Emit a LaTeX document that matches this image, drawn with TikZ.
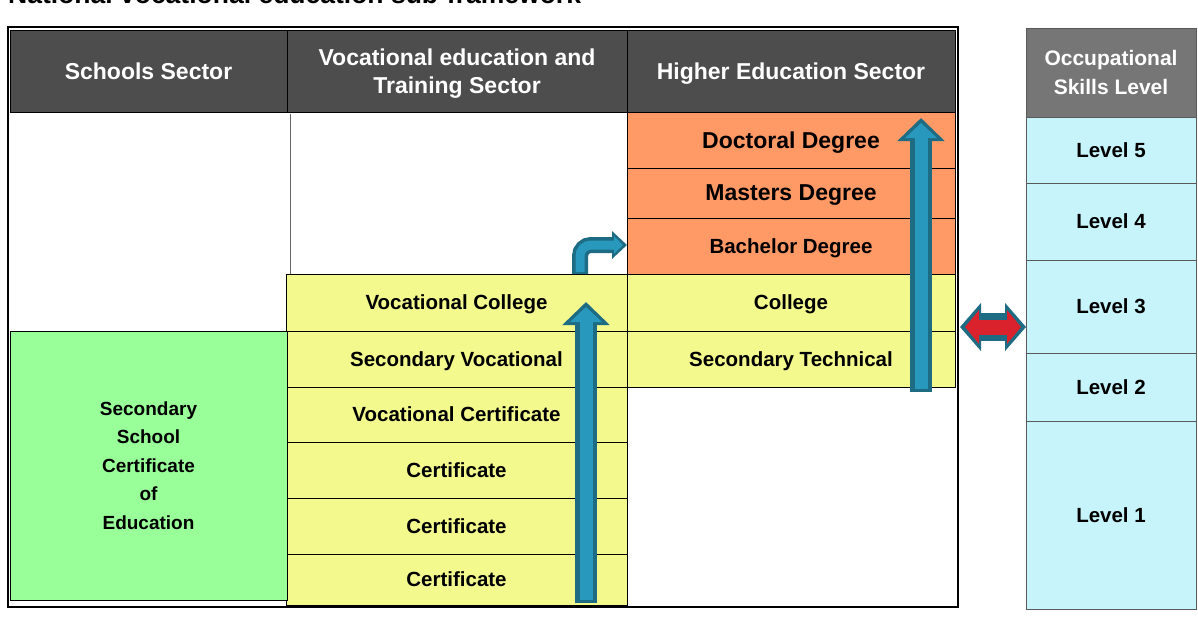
\documentclass[tikz,border=0pt]{standalone}
\usepackage{fontspec}
\setmainfont{Liberation Sans}
\usetikzlibrary{positioning,arrows.meta}

\definecolor{headgray}{HTML}{4D4D4D}
\definecolor{levelgray}{HTML}{767676}
\definecolor{degorange}{HTML}{FF9966}
\definecolor{vetyellow}{HTML}{F3F98D}
\definecolor{schgreen}{HTML}{99FF99}
\definecolor{lvlcyan}{HTML}{C7F4FA}
\definecolor{arrdark}{HTML}{1E6C84}
\definecolor{arrblue}{HTML}{2898BC}
\definecolor{arrred}{HTML}{D9222B}

\tikzset{
  cell/.style={draw=black, line width=0.8pt, inner sep=0pt, outer sep=0pt, align=center,
    text depth=0pt, text=black, font=\bfseries\fontsize{20.5}{24}\selectfont},
  headcell/.style={cell, fill=headgray, text=white, font=\bfseries\fontsize{23}{28}\selectfont},
  degcell/.style={cell, fill=degorange, minimum width=328pt},
  vetcell/.style={cell, fill=vetyellow},
  lvlcell/.style={cell, draw=black!65, fill=lvlcyan, minimum width=170pt},
  bluearrow/.style={draw=arrdark, line width=22pt, -{Triangle[width=46pt,length=23pt]},
    postaction={draw=arrblue, line width=13pt, -{Triangle[width=31pt,length=15pt]},
      shorten >=5pt, shorten <=3pt}},
  bentarrow/.style={draw=arrdark, line width=16pt, rounded corners=11pt, -{Triangle[width=27pt,length=15pt]},
    postaction={draw=arrblue, line width=9pt, -{Triangle[width=17pt,length=9pt]},
      shorten >=4pt, shorten <=2pt}},
  redarrow/.style={draw=arrdark, line width=28pt, {Triangle[width=47pt,length=21pt]}-{Triangle[width=47pt,length=21pt]},
    postaction={draw=arrred, line width=15pt, {Triangle[width=33pt,length=14pt]}-{Triangle[width=33pt,length=14pt]},
      shorten >=5pt, shorten <=5pt}}
}

\begin{document}
\begin{tikzpicture}[x=1pt, y=-1pt]
  \useasboundingbox (0,0) rectangle (1198,623);
  \clip (0,0) rectangle (1198,623);

  % 0. Title line, cut off at the top edge
  \node[anchor=base west, inner sep=0pt, font=\bfseries\fontsize{26.5}{30}\selectfont] (title) at (8,4)
    {National vocational education sub-framework};

  % 1. Header row of the framework table
  \node[headcell, minimum width=277pt, minimum height=82pt, anchor=north west] (hSch) at (10,30) {Schools Sector};
  \node[headcell, minimum width=340pt, minimum height=82pt, right=0pt of hSch] (hVet)
    {Vocational education and\\Training Sector};
  \node[headcell, minimum width=328pt, minimum height=82pt, right=0pt of hVet] (hHigh) {Higher Education Sector};

  % 2. Higher education column
  \node[degcell, minimum height=56pt, anchor=north west, font=\bfseries\fontsize{23}{28}\selectfont] (doc) at (627,112) {Doctoral Degree};
  \node[degcell, minimum height=50pt, below=0pt of doc, font=\bfseries\fontsize{23}{28}\selectfont] (mas) {Masters Degree};
  \node[degcell, minimum height=56pt, below=0pt of mas] (bac) {Bachelor Degree};
  \node[vetcell, minimum width=328pt, minimum height=57pt, below=0pt of bac] (col) {College};
  \node[vetcell, minimum width=328pt, minimum height=56pt, below=0pt of col] (sectech) {Secondary Technical};

  % 3. Vocational column
  \draw[black!60, line width=1pt] (290,114) -- (290,274);
  \node[vetcell, minimum width=341pt, minimum height=57pt, anchor=north west] (vcol) at (286,274) {Vocational College};
  \node[vetcell, minimum width=341pt, minimum height=56pt, below=0pt of vcol] (secvoc) {Secondary Vocational};
  \node[vetcell, minimum width=341pt, minimum height=55pt, below=0pt of secvoc] (vcert) {Vocational Certificate};
  \node[vetcell, minimum width=341pt, minimum height=56pt, below=0pt of vcert] (cert1) {Certificate};
  \node[vetcell, minimum width=341pt, minimum height=56pt, below=0pt of cert1] (cert2) {Certificate};
  \node[vetcell, minimum width=341pt, minimum height=51pt, below=0pt of cert2] (cert3) {Certificate};

  % 4. Schools column
  \node[cell, fill=schgreen, minimum width=277pt, minimum height=269pt, anchor=north west,
    font=\bfseries\fontsize{19}{28.5}\selectfont] (ssce) at (10,331)
    {Secondary\\School\\Certificate\\of\\Education};

  % outer frame of the table
  \draw[line width=2.8pt] (8,27) rectangle (958,607);

  % 5. Occupational skills levels
  \node[cell, draw=black!65, fill=levelgray, text=white, minimum width=170pt, minimum height=89pt,
    anchor=north west, font=\bfseries\fontsize{21}{29}\selectfont] (hLvl) at (1026,28) {Occupational\\Skills Level};
  \node[lvlcell, minimum height=66pt, below=0pt of hLvl] (lvl5) {Level 5};
  \node[lvlcell, minimum height=77pt, below=0pt of lvl5] (lvl4) {Level 4};
  \node[lvlcell, minimum height=93pt, below=0pt of lvl4] (lvl3) {Level 3};
  \node[lvlcell, minimum height=68pt, below=0pt of lvl3] (lvl2) {Level 2};
  \node[lvlcell, minimum height=188pt, below=0pt of lvl2] (lvl1) {Level 1};

  % 6. Pathway arrows
  \coordinate (vUp0) at (586,603);
  \coordinate (vUp1) at (586,302);
  \coordinate (hUp0) at (921,392);
  \coordinate (hUp1) at (921,118);
  \coordinate (bend0) at (580,274);
  \coordinate (bendC) at (580,245);
  \coordinate (lnkL) at (960,327);

  \draw[bluearrow] (vUp0) -- (vUp1);
  \draw[bluearrow] (hUp0) -- (hUp1);
  \draw[bentarrow] (bend0) -- (bendC) -- (bendC -| bac.west);
  \draw[redarrow] (lnkL) -- (lnkL -| lvl3.west);
\end{tikzpicture}
\end{document}
